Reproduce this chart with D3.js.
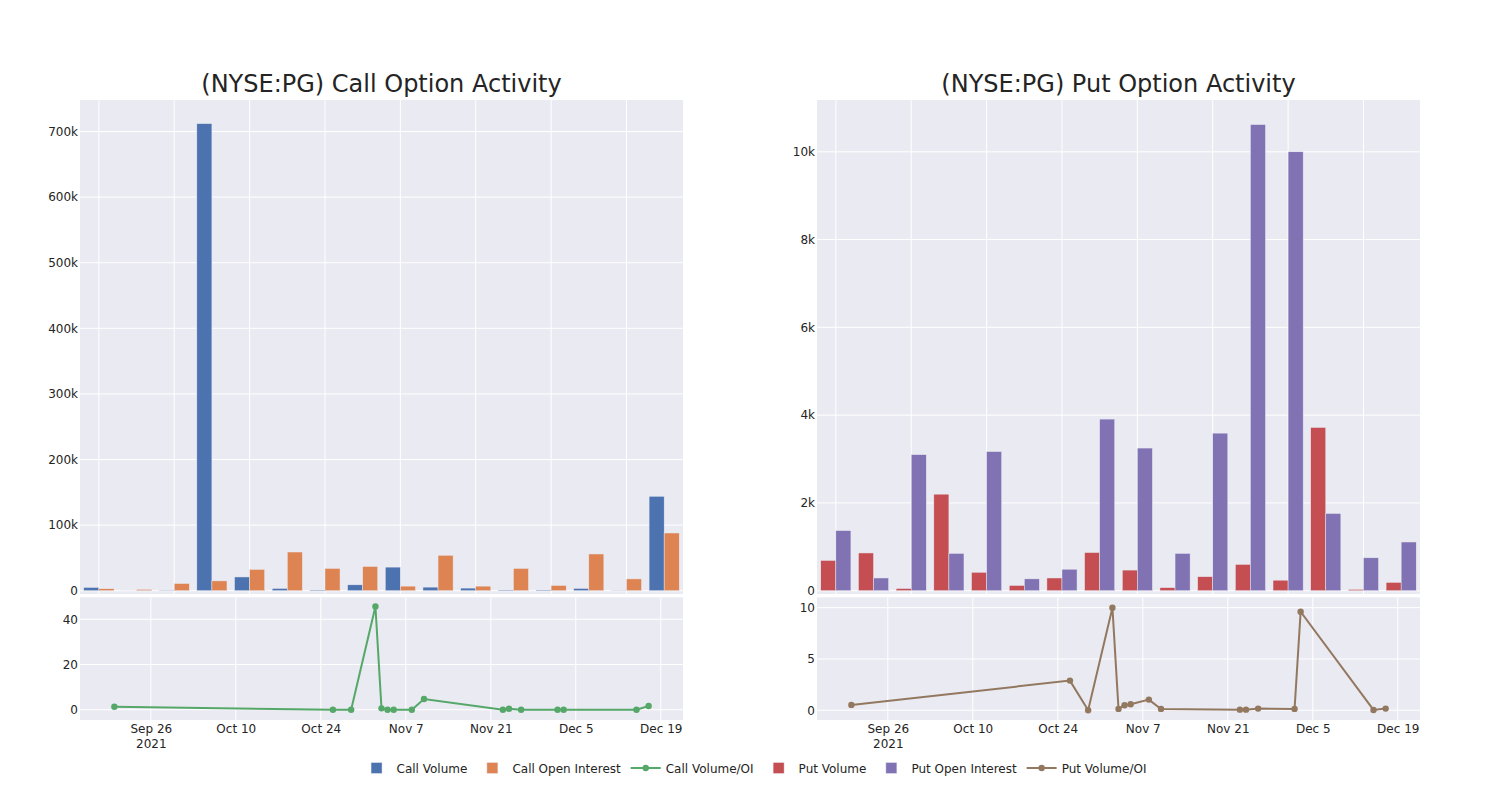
<!DOCTYPE html>
<html>
<head>
<meta charset="utf-8">
<script src="https://cdn.jsdelivr.net/npm/d3@7"></script>
<style>
  body { margin: 0; background: #fff; }
  svg { display: block; font-family: "DejaVu Sans", Verdana, sans-serif; }
</style>
</head>
<body>
<svg id="chart" width="1500" height="800"></svg>
<script>
// ---------- DATA ----------
const groups = ["G1","G2","G3","G4","G5","G6","G7","G8","G9","G10","G11","G12","G13","G14","G15","G16"];
const callVolume       = [5000, 0, 500, 712000, 21000, 3500, 1000, 9000, 36000, 5500, 4000, 1000, 1000, 3500, 300, 144000];
const callOpenInterest = [3000, 2000, 11000, 15000, 32500, 59000, 34000, 37000, 7000, 54000, 7000, 34000, 8000, 56000, 18000, 88000];
const putVolume        = [690, 860, 50, 2200, 420, 120, 290, 870, 470, 70, 320, 600, 240, 3720, 30, 190];
const putOpenInterest  = [1370, 290, 3100, 850, 3170, 270, 490, 3910, 3250, 850, 3590, 10620, 10000, 1760, 750, 1110];

const ratioDates = ["2021-09-20","2021-10-26","2021-10-29","2021-11-02","2021-11-03","2021-11-04","2021-11-05","2021-11-08","2021-11-10","2021-11-23","2021-11-24","2021-11-26","2021-12-02","2021-12-03","2021-12-15","2021-12-17"];
const callVolOI = [1.3, 0, 0, 45.6, 0.6, 0, 0, 0, 4.7, 0, 0.4, 0, 0, 0, 0, 1.6];
const putVolOI  = [0.52, 2.89, 0, 10.0, 0.13, 0.49, 0.58, 1.04, 0.13, 0.06, 0.06, 0.16, 0.13, 9.6, 0.03, 0.16];

const dateTicks = ["2021-09-26","2021-10-10","2021-10-24","2021-11-07","2021-11-21","2021-12-05","2021-12-19"];
const callBarTicks = [0, 100000, 200000, 300000, 400000, 500000, 600000, 700000];
const putBarTicks = [0, 2000, 4000, 6000, 8000, 10000];
const callRatioTicks = [0, 20, 40];
const putRatioTicks = [0, 5, 10];

const titles = ["(NYSE:PG) Call Option Activity", "(NYSE:PG) Put Option Activity"];
const legendItems = [
  {name: "Call Volume", type: "bar", color: "#4C72B0"},
  {name: "Call Open Interest", type: "bar", color: "#DD8452"},
  {name: "Call Volume/OI", type: "line", color: "#55A868"},
  {name: "Put Volume", type: "bar", color: "#C44E52"},
  {name: "Put Open Interest", type: "bar", color: "#8172B3"},
  {name: "Put Volume/OI", type: "line", color: "#937860"}
];

// ---------- STYLE ----------
const BG = "rgb(234,234,242)";
const TXT = "rgb(36,36,36)";
const parse = d3.utcParse("%Y-%m-%d");
const fmtMD = d3.utcFormat("%b %-d");
const kfmt = d => d === 0 ? "0" : (d / 1000) + "k";

const svg = d3.select("#chart");

const panels = [
  {x0: 80, x1: 683, title: titles[0], a: callVolume, b: callOpenInterest, ca: "#4C72B0", cb: "#DD8452",
   yDom: [-5000, 748000], yTicks: callBarTicks, yFmt: kfmt,
   ratio: callVolOI, rc: "#55A868", rDom: [-4.56, 49.7], rTicks: callRatioTicks},
  {x0: 817, x1: 1420, title: titles[1], a: putVolume, b: putOpenInterest, ca: "#C44E52", cb: "#8172B3",
   yDom: [-75, 11180], yTicks: putBarTicks, yFmt: kfmt,
   ratio: putVolOI, rc: "#937860", rDom: [-0.95, 11.01], rTicks: putRatioTicks}
];

const topY0 = 100, topY1 = 594, botY0 = 597.3, botY1 = 720;
const dStart = parse("2021-09-20"), dEnd = parse("2021-12-17");
const pad = 5.66 * 864e5;
const timeDomain = [new Date(+dStart - pad), new Date(+dEnd + pad)];

panels.forEach(p => {
  // ---- top bar panel ----
  const x = d3.scaleBand().domain(groups).range([p.x0, p.x1]).paddingInner(0.2).paddingOuter(0.1);
  const xIn = d3.scaleBand().domain(["a","b"]).range([0, x.bandwidth()]);
  const y = d3.scaleLinear().domain(p.yDom).range([topY1, topY0]);
  const g = svg.append("g");
  g.append("rect").attr("x", p.x0).attr("y", topY0).attr("width", p.x1 - p.x0).attr("height", topY1 - topY0).attr("fill", BG);
  // grid
  g.selectAll(".vg").data(groups.filter((d, i) => i % 2 === 0)).join("line")
    .attr("x1", d => x(d) + x.bandwidth() / 2).attr("x2", d => x(d) + x.bandwidth() / 2)
    .attr("y1", topY0).attr("y2", topY1).attr("stroke", "#fff").attr("stroke-width", 1);
  g.selectAll(".hg").data(p.yTicks).join("line")
    .attr("x1", p.x0).attr("x2", p.x1).attr("y1", d => y(d)).attr("y2", d => y(d))
    .attr("stroke", "#fff").attr("stroke-width", 1);
  // y axis labels
  const ay = d3.axisLeft(y).tickValues(p.yTicks).tickFormat(p.yFmt).tickSize(0).tickPadding(2);
  const ayg = g.append("g").attr("transform", `translate(${p.x0},0)`).call(ay);
  ayg.select(".domain").remove();
  ayg.selectAll("text").attr("font-size", 12).attr("fill", TXT).attr("font-family", "DejaVu Sans");
  // bars
  [["a", p.a, p.ca], ["b", p.b, p.cb]].forEach(([k, arr, col]) => {
    g.selectAll(".bar" + k).data(arr).join("rect")
      .attr("x", (d, i) => x(groups[i]) + xIn(k))
      .attr("width", xIn.bandwidth())
      .attr("y", d => y(Math.max(d, 0)))
      .attr("height", d => Math.max(0.01, y(0) - y(d)))
      .attr("fill", col).attr("stroke", BG).attr("stroke-width", 0.5);
  });
  // title
  svg.append("text").attr("x", (p.x0 + p.x1) / 2).attr("y", 92).attr("text-anchor", "middle")
    .attr("font-size", 24).attr("fill", TXT).text(p.title);

  // ---- bottom ratio panel ----
  const xt = d3.scaleUtc().domain(timeDomain).range([p.x0, p.x1]);
  const yr = d3.scaleLinear().domain(p.rDom).range([botY1, botY0]);
  const b = svg.append("g");
  b.append("rect").attr("x", p.x0).attr("y", botY0).attr("width", p.x1 - p.x0).attr("height", botY1 - botY0).attr("fill", BG);
  const tickDates = dateTicks.map(parse);
  b.selectAll(".vg").data(tickDates).join("line")
    .attr("x1", d => xt(d)).attr("x2", d => xt(d)).attr("y1", botY0).attr("y2", botY1)
    .attr("stroke", "#fff").attr("stroke-width", 1);
  b.selectAll(".hg").data(p.rTicks).join("line")
    .attr("x1", p.x0).attr("x2", p.x1).attr("y1", d => yr(d)).attr("y2", d => yr(d))
    .attr("stroke", "#fff").attr("stroke-width", 1);
  const ary = d3.axisLeft(yr).tickValues(p.rTicks).tickSize(0).tickPadding(2);
  const aryg = b.append("g").attr("transform", `translate(${p.x0},0)`).call(ary);
  aryg.select(".domain").remove();
  aryg.selectAll("text").attr("font-size", 12).attr("fill", TXT).attr("font-family", "DejaVu Sans");
  const axb = d3.axisBottom(xt).tickValues(tickDates).tickSize(0).tickPadding(4).tickFormat(fmtMD);
  const axbg = b.append("g").attr("transform", `translate(0,${botY1})`).call(axb);
  axbg.select(".domain").remove();
  axbg.selectAll("text").attr("font-size", 12).attr("fill", TXT).attr("font-family", "DejaVu Sans")
    .each(function(d, i) {
      if (i === 0) {
        d3.select(this).append("tspan").attr("x", 0).attr("dy", "1.3em").text(d3.utcFormat("%Y")(d));
      }
    });
  // line + markers
  const pts = ratioDates.map((d, i) => ({d: parse(d), v: p.ratio[i]}));
  b.append("path").datum(pts)
    .attr("d", d3.line().x(d => xt(d.d)).y(d => yr(d.v)))
    .attr("fill", "none").attr("stroke", p.rc).attr("stroke-width", 2);
  b.selectAll(".pt").data(pts).join("circle")
    .attr("cx", d => xt(d.d)).attr("cy", d => yr(d.v)).attr("r", 3.2).attr("fill", p.rc);
});

// ---------- LEGEND ----------
const lg = svg.append("g");
const ly = 768;
let cursor = 0;
legendItems.forEach(it => {
  const gi = lg.append("g").attr("transform", `translate(${cursor},0)`);
  if (it.type === "bar") {
    gi.append("rect").attr("x", 14.5).attr("y", ly - 5.5).attr("width", 11).attr("height", 11)
      .attr("fill", it.color).attr("stroke", BG).attr("stroke-width", 0.5);
  } else {
    gi.append("line").attr("x1", 5).attr("x2", 35).attr("y1", ly).attr("y2", ly)
      .attr("stroke", it.color).attr("stroke-width", 2);
    gi.append("circle").attr("cx", 20).attr("cy", ly).attr("r", 3.2).attr("fill", it.color);
  }
  const t = gi.append("text").attr("x", 40).attr("y", ly + 4.5).attr("font-size", 12).attr("fill", TXT).text(it.name);
  const w = t.node().getComputedTextLength();
  cursor += 40 + w + 5;
});
const totalW = cursor - 5;
lg.attr("transform", `translate(${751.5 - totalW / 2},0)`);
</script>
</body>
</html>
